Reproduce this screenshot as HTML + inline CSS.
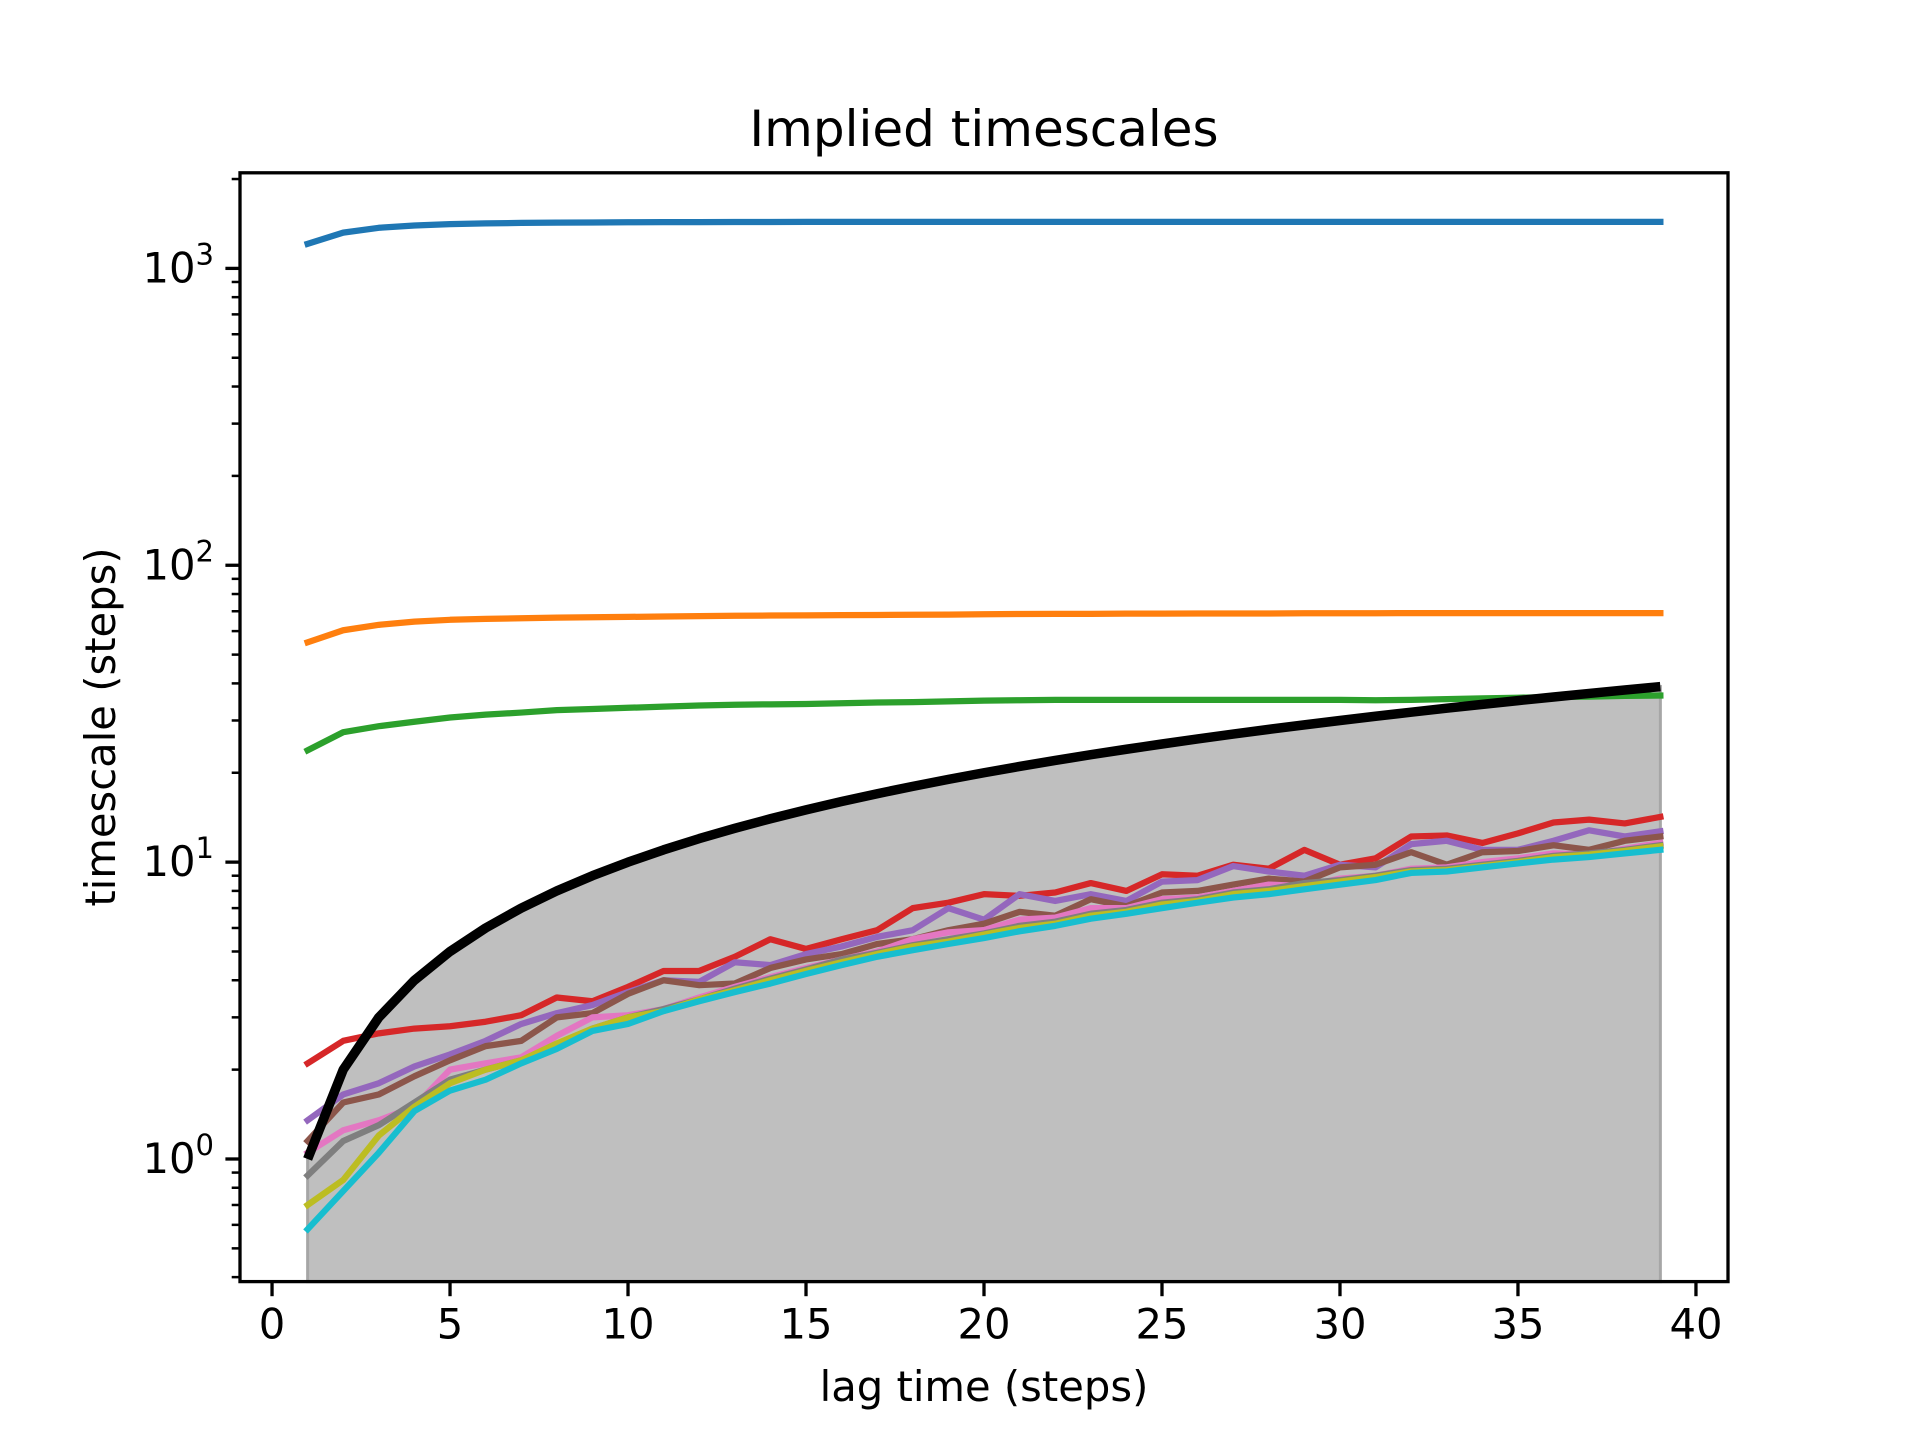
<!DOCTYPE html>
<html><head><meta charset="utf-8"><style>
html,body{margin:0;padding:0;background:#fff;}
svg{display:block;font-family:"DejaVu Sans","Liberation Sans",sans-serif;}
</style></head><body>
<svg id="chart" width="1920" height="1440" viewBox="0 0 1920 1440" xmlns="http://www.w3.org/2000/svg">
<rect width="1920" height="1440" fill="#fff"/>
<g id="plot"></g>
<text x="984" y="146" font-size="50" text-anchor="middle" fill="#000">Implied timescales</text>
<text x="984" y="1401" font-size="41.7" text-anchor="middle" fill="#000">lag time (steps)</text>
<text x="0" y="0" font-size="41.7" text-anchor="middle" fill="#000" transform="translate(115,727) rotate(-90)">timescale (steps)</text>
</svg>
<script>
const lags = [1,2,3,4,5,6,7,8,9,10,11,12,13,14,15,16,17,18,19,20,21,22,23,24,25,26,27,28,29,30,31,32,33,34,35,36,37,38,39];
const lagLine = [1,2,3,4,5,6,7,8,9,10,11,12,13,14,15,16,17,18,19,20,21,22,23,24,25,26,27,28,29,30,31,32,33,34,35,36,37,38,39];
const sBlue = [1210,1320,1370,1395,1410,1418,1423,1426,1428,1430,1431,1432,1433,1433,1434,1434,1435,1435,1435,1435,1435,1435,1435,1435,1435,1435,1435,1435,1435,1435,1435,1435,1435,1434,1434,1434,1434,1434,1434];
const sOrange = [55,60.4,63,64.6,65.5,66,66.3,66.6,66.8,67,67.2,67.4,67.6,67.7,67.8,67.9,68,68.1,68.2,68.4,68.5,68.6,68.6,68.7,68.7,68.8,68.8,68.8,68.9,68.9,68.9,69,69,69,69,69,69,69,69];
const sGreen = [23.8,27.4,28.7,29.7,30.7,31.4,31.9,32.5,32.8,33.1,33.4,33.7,33.9,34,34.1,34.3,34.5,34.6,34.8,35,35.1,35.2,35.2,35.2,35.2,35.2,35.2,35.2,35.2,35.2,35.1,35.2,35.4,35.6,35.8,36,36.1,36.3,36.4];
const sRed = [2.1,2.5,2.65,2.75,2.8,2.9,3.05,3.5,3.4,3.8,4.3,4.3,4.8,5.5,5.1,5.5,5.9,7.0,7.3,7.8,7.7,7.9,8.5,8.0,9.1,9.0,9.8,9.5,11,9.8,10.3,12.2,12.3,11.6,12.5,13.6,13.9,13.5,14.2];
const sPurple = [1.35,1.65,1.8,2.05,2.25,2.5,2.85,3.1,3.3,3.65,4.0,3.95,4.6,4.5,4.9,5.2,5.6,5.9,7.0,6.4,7.8,7.4,7.8,7.4,8.6,8.7,9.7,9.3,9.0,9.8,9.6,11.5,11.8,11.0,11.0,11.8,12.8,12.2,12.7];
const sBrown = [1.15,1.55,1.65,1.9,2.15,2.4,2.5,3.0,3.1,3.6,4.0,3.85,3.9,4.4,4.7,4.9,5.3,5.5,5.9,6.2,6.8,6.6,7.5,7.1,7.9,8.0,8.4,8.8,8.6,9.6,9.8,10.8,9.8,10.8,10.9,11.4,11.0,11.8,12.2];
const sPink = [1.05,1.25,1.35,1.5,2.0,2.1,2.2,2.6,3.0,3.05,3.2,3.5,3.8,4.1,4.4,4.7,5.0,5.5,5.8,5.9,6.4,6.5,7.0,7.0,7.5,7.6,8.0,8.4,8.3,8.8,9.0,9.5,9.6,10.0,10.3,10.7,10.6,11.1,11.6];
const sGray = [0.88,1.15,1.3,1.55,1.85,2.0,2.15,2.4,2.75,3.0,3.2,3.45,3.75,4.05,4.35,4.7,4.95,5.25,5.5,5.75,6.1,6.3,6.7,6.9,7.3,7.5,7.9,8.1,8.5,8.7,9.0,9.4,9.5,9.8,10.1,10.5,10.7,11.0,11.4];
const sOlive = [0.7,0.85,1.2,1.5,1.8,2.0,2.15,2.45,2.75,3.0,3.15,3.45,3.7,4.0,4.3,4.6,4.9,5.2,5.4,5.7,6.0,6.2,6.6,6.8,7.2,7.4,7.8,8.0,8.3,8.6,8.9,9.3,9.4,9.7,10.0,10.4,10.6,10.9,11.3];
const sCyan = [0.58,0.78,1.05,1.45,1.7,1.85,2.1,2.35,2.7,2.85,3.15,3.4,3.65,3.9,4.2,4.5,4.8,5.05,5.3,5.55,5.85,6.1,6.45,6.7,7.0,7.3,7.6,7.8,8.1,8.4,8.7,9.2,9.3,9.6,9.9,10.2,10.4,10.7,11.0];
const xTicks = [0,5,10,15,20,25,30,35,40];
const yTickExps = [0,1,2,3];

const L=240,R=1728,T=172.8,B=1281.6;
const xMin=-0.9,xMax=40.9,yMinE=-0.413,yMaxE=3.322;
const X=v=>L+(v-xMin)/(xMax-xMin)*(R-L);
const Y=v=>B-(Math.log10(v)-yMinE)/(yMaxE-yMinE)*(B-T);
const NS="http://www.w3.org/2000/svg";
const g=document.getElementById('plot');
function mk(tag,attrs){const e=document.createElementNS(NS,tag);for(const k in attrs)e.setAttribute(k,attrs[k]);g.appendChild(e);return e;}

let d=`M${X(lags[0])},${B}`;
lags.forEach((x,i)=>{d+=` L${X(x)},${Y(lagLine[i])}`;});
d+=` L${X(lags[lags.length-1])},${B} Z`;
const fill=mk('path',{d:d,fill:'#bfbfbf',stroke:'#a6a6a6','stroke-width':3});



const series=[[sBlue,'#1f77b4','series-1'],[sOrange,'#ff7f0e','series-2'],[sGreen,'#2ca02c','series-3'],[sRed,'#d62728','series-4'],[sPurple,'#9467bd','series-5'],[sBrown,'#8c564b','series-6'],[sPink,'#e377c2','series-7'],[sGray,'#7f7f7f','series-8'],[sOlive,'#bcbd22','series-9'],[sCyan,'#17becf','series-10']];
series.forEach(([vals,col,name])=>{
  const pts=lags.map((x,i)=>`${X(x)},${Y(vals[i])}`).join(' ');
  const p=mk('polyline',{points:pts,fill:'none',stroke:col,'stroke-width':6.25,'stroke-linejoin':'round','stroke-linecap':'square'});
  
  
});
const lp=mk('polyline',{points:lags.map((x,i)=>`${X(x)},${Y(lagLine[i])}`).join(' '),fill:'none',stroke:'#000','stroke-width':9.5,'stroke-linejoin':'round'});



const fr=mk('rect',{x:L,y:T,width:R-L,height:B-T,fill:'none',stroke:'#000','stroke-width':3.3});



xTicks.forEach(v=>{
  const t=mk('line',{x1:X(v),x2:X(v),y1:B,y2:B+14.6,stroke:'#000','stroke-width':3.3});
  
  
  const tx=mk('text',{x:X(v),y:B+57,'font-size':41.7,'text-anchor':'middle',fill:'#000'});
  tx.textContent=v;
  
  
});
for(let e=-1;e<=3;e++){for(let m=1;m<10;m++){
  const v=m*Math.pow(10,e);const le=Math.log10(v);
  if(le<yMinE||le>yMaxE)continue;
  const major=m===1;
  const t=mk('line',{x1:L-(major?14.6:8.3),x2:L,y1:Y(v),y2:Y(v),stroke:'#000','stroke-width':major?3.3:2.5});
  
  
}}
yTickExps.forEach(e=>{
  const tx=mk('text',{x:L-26,y:Y(Math.pow(10,e))+14,'font-size':41.7,'text-anchor':'end',fill:'#000'});
  tx.innerHTML=`10<tspan dy="-18" font-size="29">${e}</tspan>`;
  
  
});
</script>
</body></html>
